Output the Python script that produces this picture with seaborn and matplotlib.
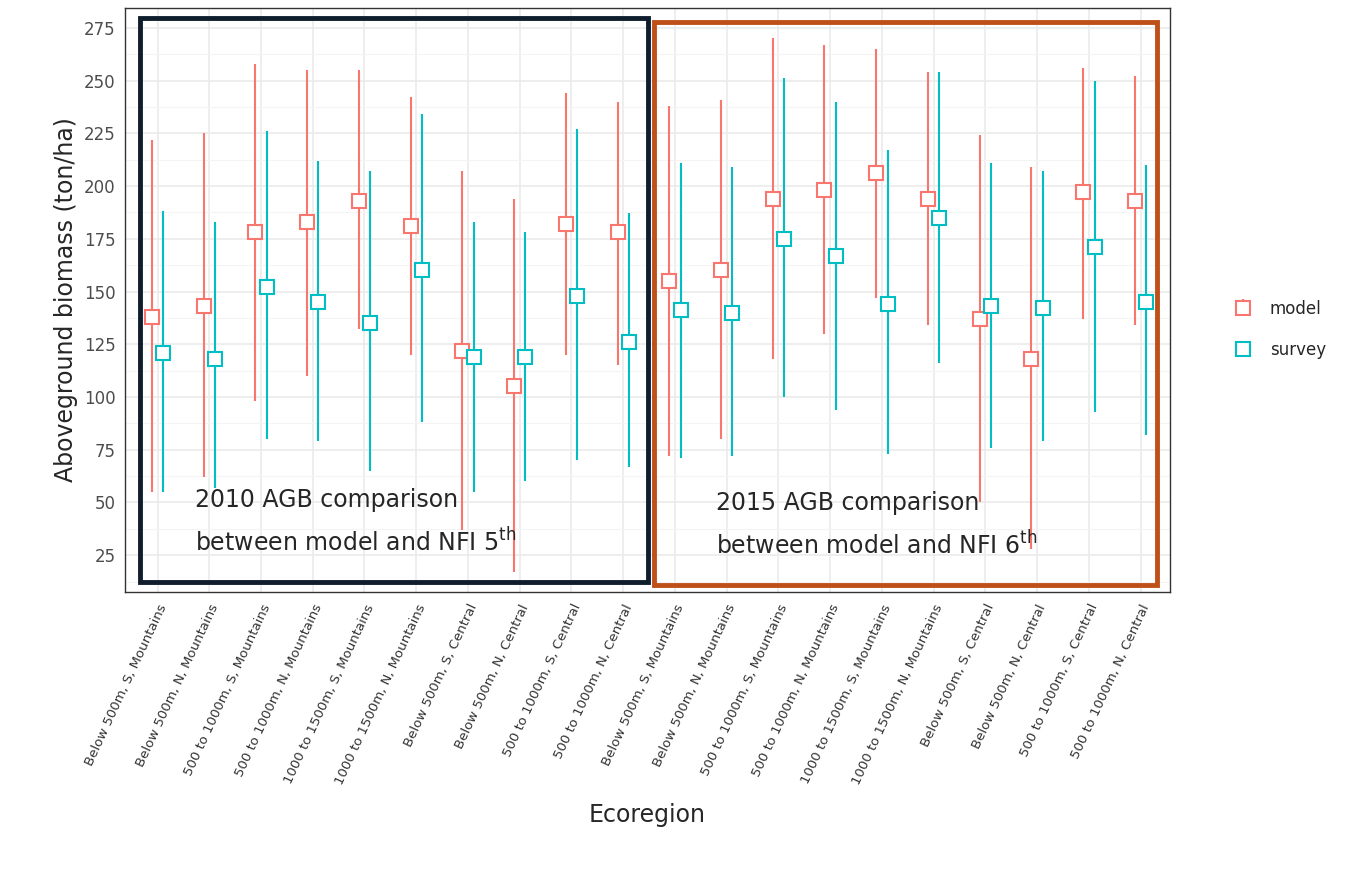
import matplotlib
matplotlib.use("Agg")
import matplotlib.pyplot as plt
import numpy as np
import seaborn as sns
from matplotlib.patches import Rectangle

regions = [
    "Below 500m, S, Mountains", "Below 500m, N, Mountains",
    "500 to 1000m, S, Mountains", "500 to 1000m, N, Mountains",
    "1000 to 1500m, S, Mountains", "1000 to 1500m, N, Mountains",
    "Below 500m, S, Central", "Below 500m, N, Central",
    "500 to 1000m, S, Central", "500 to 1000m, N, Central",
]
categories = regions + regions

model_mean = [138, 143, 178, 183, 193, 181, 122, 105, 182, 178,
              155, 160, 194, 198, 206, 194, 137, 118, 197, 193]
model_lo = [55, 62, 98, 110, 132, 120, 37, 17, 120, 115,
            72, 80, 118, 130, 147, 134, 50, 28, 137, 134]
model_hi = [222, 225, 258, 255, 255, 242, 207, 194, 244, 240,
            238, 241, 270, 267, 265, 254, 224, 209, 256, 252]
survey_mean = [121, 118, 152, 145, 135, 160, 119, 119, 148, 126,
               141, 140, 175, 167, 144, 185, 143, 142, 171, 145]
survey_lo = [55, 57, 80, 79, 65, 88, 55, 60, 70, 67,
             71, 72, 100, 94, 73, 116, 76, 79, 93, 82]
survey_hi = [188, 183, 226, 212, 207, 234, 183, 178, 227, 187,
             211, 209, 251, 240, 217, 254, 211, 207, 250, 210]

sns.set_style("whitegrid")
plt.rcParams["font.family"] = ["DejaVu Sans"]

fig = plt.figure(figsize=(13.49, 8.71), dpi=100)
ax = fig.add_axes([0.093, 0.32, 0.774, 0.671])

x = np.arange(len(categories))
series = [
    ("model", "#F8766D", model_mean, model_lo, model_hi, -0.11),
    ("survey", "#00BFC4", survey_mean, survey_lo, survey_hi, 0.11),
]
for name, color, mean, lo, hi, off in series:
    mean = np.array(mean)
    err = [mean - np.array(lo), np.array(hi) - mean]
    ax.errorbar(x + off, mean, yerr=err, fmt="s", color=color, mfc="white",
                mec=color, mew=1.5, ms=10, elinewidth=1.5, capsize=0, label=name)

ax.set_xlim(-0.62, len(categories) - 0.44)
ax.set_ylim(7.4, 284.5)
ax.set_yticks(np.arange(25, 276, 25))
ax.set_yticks(np.arange(12.5, 284, 12.5), minor=True)
ax.set_xticks(x)
ax.set_xticklabels(categories, rotation=65, ha="right", rotation_mode="anchor", fontsize=9.5)
ax.tick_params(axis="y", labelsize=12, colors="#4d4d4d")
ax.tick_params(axis="x", colors="#333333")
ax.grid(which="major", color="#ebebeb", lw=1.2)
ax.grid(which="minor", color="#f4f4f4", lw=0.8)
for s in ax.spines.values():
    s.set_color("#333333")
    s.set_linewidth(1)
ax.set_xlabel("Ecoregion", fontsize=17, labelpad=12)
ax.set_ylabel("Aboveground biomass (ton/ha)", fontsize=17)
ax.legend(loc="center left", bbox_to_anchor=(1.04, 0.45), frameon=False, fontsize=12,
          handletextpad=0.6, labelspacing=1.4)

W, H = 1349, 871
fig.patches.append(Rectangle((140 / W, 1 - 582 / H), 508 / W, 564 / H, transform=fig.transFigure,
                             fill=False, ec="#0f1d2c", lw=3.5))
fig.patches.append(Rectangle((654 / W, 1 - 585 / H), 503 / W, 563 / H, transform=fig.transFigure,
                             fill=False, ec="#c0501a", lw=3.5))
fig.text(195 / W, 1 - 522 / H, "2010 AGB comparison\nbetween model and NFI 5$^{\\mathrm{th}}$",
         fontsize=17, va="center", linespacing=1.7)
fig.text(716 / W, 1 - 525 / H, "2015 AGB comparison\nbetween model and NFI 6$^{\\mathrm{th}}$",
         fontsize=17, va="center", linespacing=1.7)

fig.savefig("out.png", dpi=100)
